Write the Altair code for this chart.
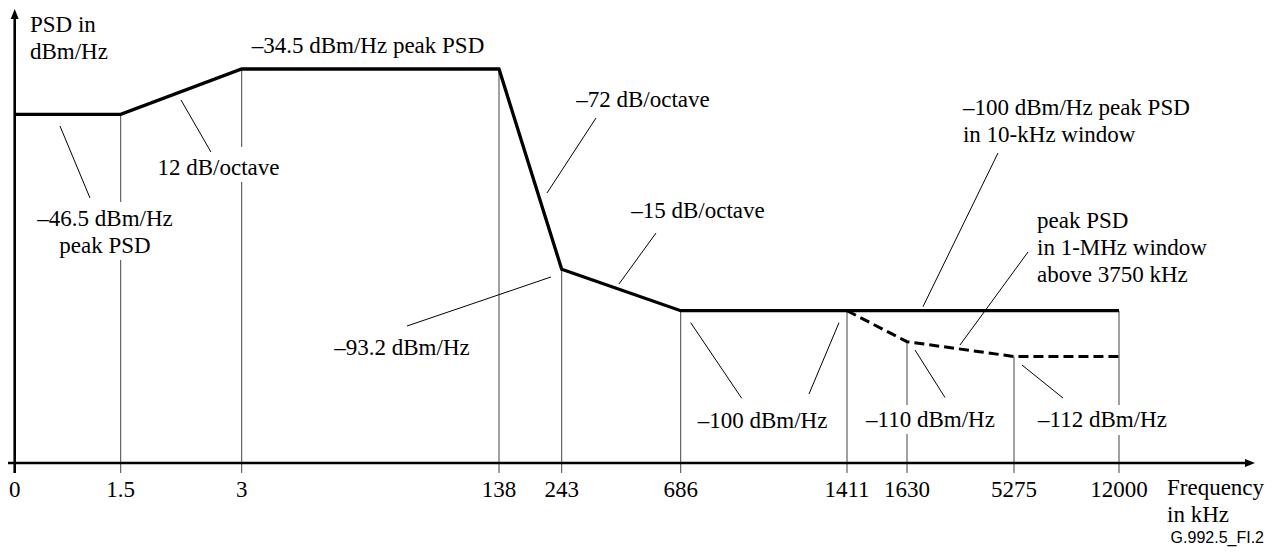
import altair as alt
import pandas as pd

# ---- data ----
FREQ_TICKS = [0, 1.5, 3, 138, 243, 686, 1411, 1630, 5275, 12000]
TICK_LABELS = ["0", "1.5", "3", "138", "243", "686", "1411", "1630", "5275", "12000"]
PSD_LEVELS = [-112, -110, -100, -93.2, -46.5, -34.5]

# solid mask (dBm/Hz)
SOLID_F = [0, 1.5, 3, 138, 243, 686, 12000]
SOLID_DB = [-46.5, -46.5, -34.5, -34.5, -93.2, -100, -100]
# dashed mask (peak PSD in 1-MHz window)
DASH_F = [1411, 1630, 5275, 12000]
DASH_DB = [-100, -110, -112, -112]
# break-point drop lines
BREAK_F = [1.5, 3, 138, 243, 686, 1411, 1630, 5275, 12000]
BREAK_DB = [-46.5, -34.5, -34.5, -93.2, -100, -100, -110, -112, -100]

# ---- schematic (non-proportional) scales of the original drawing ----
X_RANGE = [6.7, 112.7, 233.7, 491, 553.7, 672.7, 839, 899, 1006, 1111]
Y_RANGE = [348.5, 333.7, 302.7, 261.3, 106.3, 61]
xs = alt.Scale(domain=FREQ_TICKS, range=X_RANGE, nice=False, zero=False)
ys = alt.Scale(domain=PSD_LEVELS, range=Y_RANGE, nice=False, zero=False)

AXIS_DB = -126.39
TICK_BOTTOM_DB = -127.74
LABEL_DB = -130.99

SERIF = "Liberation Serif"
FS = 23

def X(f="f"):
    return alt.X(f, type="quantitative", scale=xs, axis=None)

def Y(f="db"):
    return alt.Y(f, type="quantitative", scale=ys, axis=None)

solid = pd.DataFrame({"f": SOLID_F, "db": SOLID_DB})
dash = pd.DataFrame({"f": DASH_F, "db": DASH_DB})
breaks = pd.DataFrame({"f": BREAK_F, "db": BREAK_DB, "base": [TICK_BOTTOM_DB] * len(BREAK_F)})
ticks = pd.DataFrame({"f": FREQ_TICKS, "label": TICK_LABELS, "db": [LABEL_DB] * len(FREQ_TICKS)})

# annotation texts: (text, frequency, dBm)
ANN_CENTER_TEXT = ["–34.5 dBm/Hz peak PSD", "12 dB/octave", "–46.5 dBm/Hz\npeak PSD",
                   "–72 dB/octave", "–15 dB/octave", "–93.2 dBm/Hz",
                   "–100 dBm/Hz", "–110 dBm/Hz", "–112 dBm/Hz"]
ANN_CENTER_F = [69.26, 2.712, 1.278, 545.7, 761.4, 87.1, 1042.6, 2430.4, 10943]
ANN_CENTER_DB = [-30.34, -64.79, -80.15, -44.57, -77.74, -111.80, -121.66, -121.53, -121.53]

ANN_LEFT_TEXT = ["PSD in\ndBm/Hz", "–100 dBm/Hz peak PSD\nin 10-kHz window",
                 "peak PSD\nin 1-MHz window\nabove 3750 kHz", "Frequency\nin kHz"]
ANN_LEFT_F = [0.2165, 3537, 6748, 15074]
ANN_LEFT_DB = [-24.78, -46.71, -80.76, -130.72]

FIG_ID = "G.992.5_FI.2"
FIG_ID_F = 21287
FIG_ID_DB = -137.2

# leader lines (f1, db1) -> (f2, db2)
LEAD_F1 = [0.641, 2.2475, 370.7, 594.1, 89.73, 729.6, 1376.1, 1902.5, 5787, 4729.5, 6172]
LEAD_DB1 = [-50.03, -42.71, -47.61, -82.26, -104.94, -103.87, -103.87, -111.12, -113.15, -58.16, -87.99]
LEAD_F2 = [1.0655, 2.619, 218.4, 456.3, 225.1, 951.9, 1245.3, 2924.3, 8413, 2175, 3435]
LEAD_DB2 = [-71.72, -57.86, -70.21, -95.61, -94.46, -117.65, -117.07, -117.54, -117.61, -99.34, -110.45]

# white boxes behind labels that interrupt the drop lines
BOX_F1 = [1.925, 0.259, 1462.1, 6492]
BOX_F2 = [24.14, 2.198, 4797.6, 15395]
BOX_DB1 = [-56.35, -72.92, -118.55, -118.55]
BOX_DB2 = [-66.90, -90.40, -122.47, -122.61]

# axes extents
XAXIS_F = [-0.151, 20390]
YAXIS_DB = [TICK_BOTTOM_DB, -19.93]

ann_c = pd.DataFrame({"text": ANN_CENTER_TEXT, "f": ANN_CENTER_F, "db": ANN_CENTER_DB})
ann_l = pd.DataFrame({"text": ANN_LEFT_TEXT, "f": ANN_LEFT_F, "db": ANN_LEFT_DB})
ann_r = pd.DataFrame({"text": [FIG_ID], "f": [FIG_ID_F], "db": [FIG_ID_DB]})
leads = pd.DataFrame({"f": LEAD_F1, "db": LEAD_DB1, "f2": LEAD_F2, "db2": LEAD_DB2})
boxes = pd.DataFrame({"f": BOX_F1, "f2": BOX_F2, "db": BOX_DB1, "db2": BOX_DB2})
xaxis = pd.DataFrame({"f": [XAXIS_F[0]], "f2": [XAXIS_F[1]], "db": [AXIS_DB]})
yaxis = pd.DataFrame({"f": [0.0], "db": [YAXIS_DB[0]], "db2": [YAXIS_DB[1]]})
xarrow = pd.DataFrame({"f": [XAXIS_F[1]], "db": [AXIS_DB]})
yarrow = pd.DataFrame({"f": [0.0], "db": [YAXIS_DB[1]]})

drop_lines = alt.Chart(breaks).mark_rule(color="#444", strokeWidth=1).encode(
    x=X(), y=Y(), y2="base")

box_layer = alt.Chart(boxes).mark_rect(color="white").encode(
    x=X(), x2="f2", y=Y(), y2="db2")

solid_line = alt.Chart(solid).mark_line(color="black", strokeWidth=3.3, strokeJoin="miter").encode(
    x=X(), y=Y())
dash_line = alt.Chart(dash).mark_line(color="black", strokeWidth=3, strokeDash=[10, 5]).encode(
    x=X(), y=Y())

lead_layer = alt.Chart(leads).mark_rule(color="black", strokeWidth=1).encode(
    x=X(), y=Y(), x2="f2", y2="db2")

xaxis_line = alt.Chart(xaxis).mark_rule(color="black", strokeWidth=2.6).encode(
    x=X(), x2="f2", y=Y())
yaxis_line = alt.Chart(yaxis).mark_rule(color="black", strokeWidth=2.6).encode(
    x=X(), y=Y(), y2="db2")
xarrow_pt = alt.Chart(xarrow).mark_point(shape="M-1,-0.8L1,0L-1,0.8Z", filled=True, size=100,
                                          color="black", opacity=1).encode(x=X(), y=Y())
yarrow_pt = alt.Chart(yarrow).mark_point(shape="M-0.8,1L0,-1L0.8,1Z", filled=True, size=100,
                                          color="black", opacity=1).encode(x=X(), y=Y())

tick_text = alt.Chart(ticks).mark_text(font=SERIF, fontSize=FS, align="center",
                                       baseline="alphabetic", color="black").encode(
    x=X(), y=Y(), text="label")

text_c = alt.Chart(ann_c).mark_text(font=SERIF, fontSize=FS, align="center", baseline="alphabetic",
                                    lineBreak="\n", lineHeight=27, color="black").encode(
    x=X(), y=Y(), text="text")
text_l = alt.Chart(ann_l).mark_text(font=SERIF, fontSize=FS, align="left", baseline="alphabetic",
                                    lineBreak="\n", lineHeight=27, color="black").encode(
    x=X(), y=Y(), text="text")
text_r = alt.Chart(ann_r).mark_text(font="Liberation Sans", fontSize=16, align="right",
                                    baseline="alphabetic", color="black").encode(
    x=X(), y=Y(), text="text")

chart = alt.layer(
    drop_lines, box_layer, solid_line, dash_line, lead_layer,
    xaxis_line, yaxis_line, xarrow_pt, yarrow_pt,
    tick_text, text_c, text_l, text_r,
).properties(
    width=1263, height=544, padding=0, autosize=alt.AutoSizeParams(type="none"),
    background="white",
).configure_view(stroke=None)

chart.save("out.html", embed_options={"renderer": "svg", "actions": False})
